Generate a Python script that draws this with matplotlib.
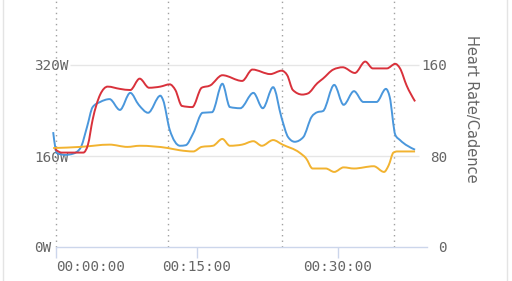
import numpy as np
import matplotlib
matplotlib.use("Agg")
import matplotlib.pyplot as plt
from matplotlib.path import Path
from matplotlib.patches import PathPatch
from matplotlib.lines import Line2D

# ---- data (time in minutes) ----
power_t = [-0.3, 0.1, 1.0, 1.8, 2.6, 3.3, 3.9, 4.7, 5.7, 6.8, 7.9, 8.8, 9.8, 11.1, 11.4,
           12.1, 13.2, 13.8, 14.6, 15.6, 16.6, 17.7, 18.5, 19.6, 21.0, 22.0, 23.1, 24.0,
           24.7, 25.4, 26.3, 27.2, 27.8, 28.4, 29.6, 30.6, 31.7, 32.7, 34.1, 35.1, 35.5,
           36.1, 36.6, 38.2]
power_w = [202, 165, 162, 164, 174, 211, 246, 255, 260, 241, 271, 250, 236, 266, 258,
           206, 178, 179, 200, 236, 237, 287, 246, 244, 271, 244, 281, 227,
           193, 185, 193, 229, 237, 239, 285, 250, 274, 255, 255, 278, 264,
           197, 188, 171]

hr_t = [-0.1, 0.6, 2.9, 3.4, 3.9, 4.7, 5.5, 6.8, 7.9, 8.9, 9.9, 11.1, 12.1, 12.7, 13.4,
        14.5, 15.5, 16.4, 17.7, 19.8, 20.9, 22.8, 24.0, 24.6, 25.2, 26.2, 26.8, 27.8,
        28.4, 29.5, 30.5, 31.8, 32.9, 33.7, 35.2, 36.1, 36.6, 37.3, 38.2]
hr_bpm = [86, 83, 83, 90, 112, 134, 141, 139, 138, 148, 140, 141, 143, 138, 124,
          123, 140, 142, 151, 146, 156, 152, 155, 151, 138, 134, 135, 144,
          148, 156, 158, 153, 163, 157, 157, 161, 157, 142, 128]

cad_t = [-0.3, 2.6, 5.7, 7.6, 8.9, 11.9, 13.2, 14.6, 15.5, 16.7, 17.7, 18.5, 19.8, 21.0,
         21.9, 23.1, 24.1, 25.9, 26.6, 27.3, 28.7, 29.6, 30.6, 31.7, 33.8, 34.9, 35.4,
         35.9, 36.3, 38.2]
cad_rpm = [87, 88, 90, 88, 89, 87, 85, 84, 88, 89, 95, 89, 90, 93,
           89, 94, 90, 83, 78, 69, 69, 66, 70, 69, 71, 66, 72,
           83, 84, 84]

lap_t = [0, 11.95, 24.0, 36.0]
x_ticks = [0, 15, 30]
x_labels = ["00:00:00", "00:15:00", "00:30:00"]
power_ticks = [0, 160, 320]
power_labels = ["0W", "160W", "320W"]
hr_ticks = [0, 80, 160]
hr_labels = ["0", "80", "160"]

BLUE = "#4a97dc"
RED = "#d9313b"
YELLOW = "#f2b330"
GRAY_TXT = "#666666"
AXIS_C = "#ccd6eb"


def monotone_path(xs, ys):
    """Smooth monotone-x cubic Bezier path through given points (drawing only)."""
    x = np.asarray(xs, float)
    y = np.asarray(ys, float)
    n = len(x)
    h = np.diff(x)
    s = np.diff(y) / h
    m = np.zeros(n)
    for i in range(1, n - 1):
        s0, s1 = s[i - 1], s[i]
        p = (s0 * h[i] + s1 * h[i - 1]) / (h[i - 1] + h[i])
        m[i] = (np.sign(s0) + np.sign(s1)) * min(abs(s0), abs(s1), 0.5 * abs(p))
    m[0] = (3 * s[0] - m[1]) / 2 if n > 2 else s[0]
    m[-1] = (3 * s[-1] - m[-2]) / 2 if n > 2 else s[-1]
    verts = [(x[0], y[0])]
    codes = [Path.MOVETO]
    for i in range(n - 1):
        dx = h[i] / 3
        verts += [(x[i] + dx, y[i] + m[i] * dx),
                  (x[i + 1] - dx, y[i + 1] - m[i + 1] * dx),
                  (x[i + 1], y[i + 1])]
        codes += [Path.CURVE4] * 3
    return Path(verts, codes)


W, H = 512, 281
fig = plt.figure(figsize=(W / 100, H / 100), dpi=100)
fig.patch.set_facecolor("white")

x_left_t, x_right_t = -0.35, 39.47
px_per_min = 141 / 15
ax_left_px = 56 + x_left_t * px_per_min
ax = fig.add_axes([ax_left_px / W, 34 / H, (427 - ax_left_px) / W, 1 - 34 / H])
ax.set_xlim(x_left_t, x_right_t)
ax.set_ylim(0, 247 / (91 / 160))
ax.patch.set_alpha(0)
for sp in ax.spines.values():
    sp.set_visible(False)

ax2 = ax.twinx()
ax2.set_ylim(0, 247 / (91 / 80))
for sp in ax2.spines.values():
    sp.set_visible(False)

mono = "DejaVu Sans Mono"

# grid lines
ax.hlines([160, 320], 1.5, 38.6, color="#e6e6e6", lw=1, zorder=1)
# lap lines
ax.vlines(lap_t, 0, ax.get_ylim()[1], color="#a0a0a0", lw=1,
          linestyles=[(0, (1, 3))], zorder=1)
# x axis line
ax.plot([0, x_right_t], [0, 0], color=AXIS_C, lw=1, clip_on=False, zorder=2)

# x ticks
ax.set_xticks(x_ticks)
ax.set_xticklabels(x_labels, fontfamily=mono, fontsize=10.3, color=GRAY_TXT)
ax.tick_params(axis="x", length=8, width=1, color=AXIS_C, pad=1.2)
ax.get_xticklabels()[0].set_horizontalalignment("left")

# left y ticks (left-aligned, starting at x=34px)
ax.set_yticks(power_ticks)
ax.set_yticklabels(power_labels, fontfamily=mono, fontsize=10.3, color=GRAY_TXT)
for lab in ax.get_yticklabels():
    lab.set_horizontalalignment("left")
ax.tick_params(axis="y", length=0, pad=(ax_left_px - 34) * 72 / 100)

# right y ticks
ax2.set_yticks(hr_ticks)
ax2.set_yticklabels(hr_labels, fontfamily=mono, fontsize=10.3, color=GRAY_TXT)
for lab in ax2.get_yticklabels():
    lab.set_horizontalalignment("right")
ax2.tick_params(axis="y", length=0, pad=(447 - 427) * 72 / 100)

# data lines
ax2.add_patch(PathPatch(monotone_path(cad_t, cad_rpm), fill=False, edgecolor=YELLOW,
                        lw=1.4, zorder=3, clip_on=False))
ax.add_patch(PathPatch(monotone_path(power_t, power_w), fill=False, edgecolor=BLUE,
                       lw=1.4, zorder=3, clip_on=False))
ax2.add_patch(PathPatch(monotone_path(hr_t, hr_bpm), fill=False, edgecolor=RED,
                        lw=1.4, zorder=4, clip_on=False))

# right axis title
fig.text(471 / W, 1 - 109 / H, "Heart Rate/Cadence", rotation=270, ha="center",
         va="center", fontsize=10.5, color=GRAY_TXT, family="DejaVu Sans")

# card borders
fig.add_artist(Line2D([2.5 / W, 2.5 / W], [0, 1], color="#e4e4e4", lw=1))
fig.add_artist(Line2D([506.5 / W, 506.5 / W], [0, 1], color="#e4e4e4", lw=1))

fig.savefig("out.png", dpi=100)
